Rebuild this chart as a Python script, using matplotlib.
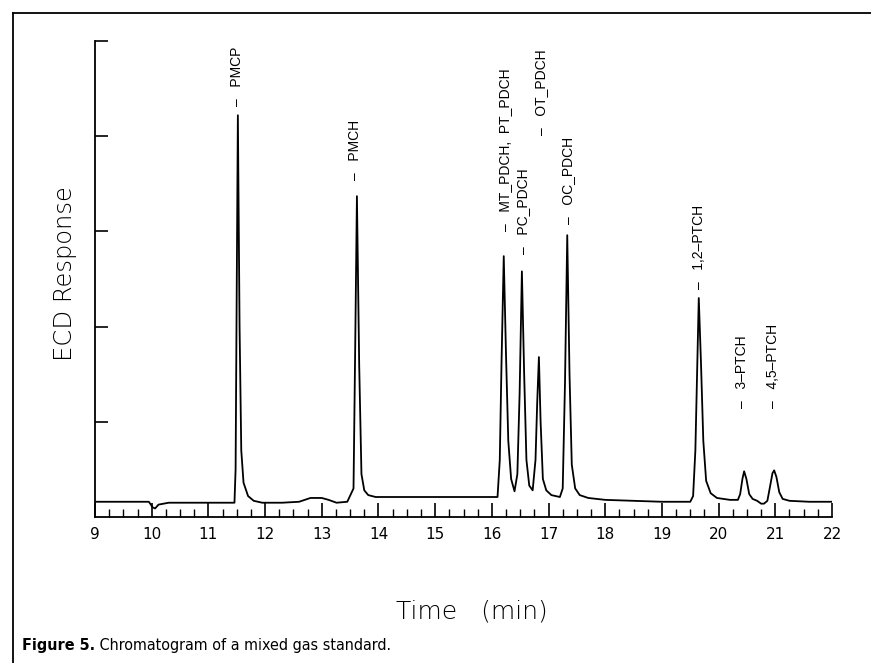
import numpy as np
import matplotlib.pyplot as plt
from matplotlib.lines import Line2D
from matplotlib.ticker import MultipleLocator, NullFormatter

# trace (time in min, response in tick units)
trace_time = [9.00, 9.50, 9.95, 10.02, 10.06, 10.12, 10.30, 10.80, 11.40, 11.46,
              11.48, 11.50, 11.52, 11.55, 11.58, 11.62, 11.70, 11.80, 11.95, 12.30,
              12.60, 12.80, 13.00, 13.12, 13.26, 13.45, 13.56, 13.59, 13.62, 13.66,
              13.70, 13.75, 13.82, 13.95, 14.50, 15.00, 15.50, 16.10, 16.14, 16.17,
              16.21, 16.25, 16.29, 16.34, 16.40, 16.45, 16.49, 16.53, 16.57, 16.61,
              16.66, 16.72, 16.77, 16.80, 16.83, 16.86, 16.90, 16.96, 17.05, 17.20,
              17.25, 17.29, 17.33, 17.37, 17.41, 17.47, 17.55, 17.70, 18.00, 18.50,
              19.00, 19.50, 19.55, 19.59, 19.62, 19.65, 19.69, 19.73, 19.78, 19.86,
              19.97, 20.20, 20.34, 20.38, 20.42, 20.45, 20.49, 20.54, 20.60, 20.68,
              20.75, 20.80, 20.86, 20.91, 20.95, 20.98, 21.02, 21.07, 21.13, 21.25,
              21.60, 22.00]
trace_resp = [0.16, 0.16, 0.16, 0.10, 0.09, 0.13, 0.15, 0.15, 0.15, 0.15,
              0.50, 2.40, 4.22, 2.00, 0.70, 0.36, 0.22, 0.17, 0.15, 0.15,
              0.16, 0.20, 0.20, 0.18, 0.15, 0.16, 0.30, 1.80, 3.37, 1.60,
              0.45, 0.28, 0.23, 0.21, 0.21, 0.21, 0.21, 0.21, 0.60, 1.60,
              2.74, 1.70, 0.80, 0.40, 0.27, 0.45, 1.30, 2.58, 1.50, 0.60,
              0.33, 0.28, 0.60, 1.20, 1.68, 1.00, 0.40, 0.28, 0.23, 0.21,
              0.30, 1.40, 2.96, 1.50, 0.55, 0.30, 0.23, 0.20, 0.18, 0.17,
              0.16, 0.16, 0.22, 0.70, 1.50, 2.30, 1.60, 0.80, 0.38, 0.25,
              0.20, 0.18, 0.18, 0.24, 0.40, 0.48, 0.40, 0.24, 0.19, 0.17,
              0.14, 0.14, 0.17, 0.33, 0.46, 0.49, 0.42, 0.26, 0.19, 0.17,
              0.16, 0.16]

peak_names = ['PMCP', 'PMCH', 'MT_PDCH,  PT_PDCH', 'PC_PDCH', 'OT_PDCH',
              'OC_PDCH', '1,2\u2013PTCH', '3\u2013PTCH', '4,5\u2013PTCH']
label_time = [11.51, 13.58, 16.23, 16.55, 16.87, 17.34, 19.65, 20.41, 20.96]
label_resp = [4.32, 3.54, 3.00, 2.76, 4.01, 3.08, 2.39, 1.14, 1.14]

x_ticks = list(range(9, 23))

fig = plt.figure(figsize=(8.71, 6.63), dpi=100)
ax = fig.add_axes([95 / 871, 1 - 517 / 663, (832 - 95) / 871, (517 - 41) / 663])

ax.plot(trace_time, trace_resp, color='black', lw=1.3, solid_joinstyle='round')

for name, t, r in zip(peak_names, label_time, label_resp):
    ax.text(t, r, '\u2013   ' + name, rotation=90, ha='center', va='bottom',
            fontsize=10, family=['Liberation Sans', 'DejaVu Sans'])

ax.set_xlim(9, 22)
ax.set_ylim(0, 5)
for s in ['top', 'right']:
    ax.spines[s].set_visible(False)
ax.spines['left'].set_linewidth(1.3)
ax.spines['bottom'].set_linewidth(1.3)

ax.set_xticks(x_ticks)
ax.set_xticklabels([str(v) for v in x_ticks], family='DejaVu Sans', fontsize=11)
ax.xaxis.set_minor_locator(MultipleLocator(0.25))
ax.tick_params(axis='x', which='major', direction='in', length=10, width=1.2, pad=7)
ax.tick_params(axis='x', which='minor', direction='in', length=6, width=1.0)
ax.set_yticks([1, 2, 3, 4, 5])
ax.yaxis.set_major_formatter(NullFormatter())
ax.tick_params(axis='y', direction='in', length=9, width=1.2)

fig.text(65 / 871, 1 - 274 / 663, 'ECD Response', rotation=90, ha='center', va='center',
         fontsize=17.5, family='DejaVu Sans', fontweight=200)
fig.text(472 / 871, 1 - 611 / 663, 'Time   (min)', ha='center', va='center',
         fontsize=18, family='DejaVu Sans', fontweight=200)

cap = fig.text(22 / 871, 1 - 650 / 663, 'Figure 5.', fontsize=11.5, fontweight='bold',
               family='DejaVu Sans', fontstretch='condensed')
ax.annotate(' Chromatogram of a mixed gas standard.', xy=(1, 0), xycoords=cap,
            va='bottom', ha='left', fontsize=11.5, family='DejaVu Sans',
            fontstretch='condensed', annotation_clip=False)

# page frame around the figure
fig.add_artist(Line2D([13 / 871, 13 / 871], [0, 1 - 13 / 663], color='black', lw=1.3))
fig.add_artist(Line2D([13 / 871, 1], [1 - 13 / 663, 1 - 13 / 663], color='black', lw=1.3))

fig.savefig('out.png', dpi=100)
